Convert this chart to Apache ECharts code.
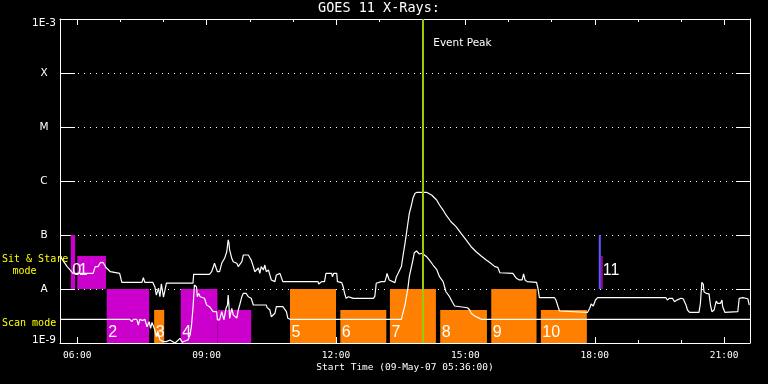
<!DOCTYPE html>
<html><head><meta charset="utf-8">
<script src="https://cdn.jsdelivr.net/npm/echarts@6/dist/echarts.min.js"></script>
<style>html,body{margin:0;padding:0;background:#000}#c{width:768px;height:384px}</style>
</head><body><div id="c"></div>
<script>
// ---------- data ----------
const startTime = '05:36';
const endTime = '21:36';
const xTickLabels = ['06:00','09:00','12:00','15:00','18:00','21:00'];
const xMinorTicks = ['06:00','07:00','08:00','09:00','10:00','11:00','12:00','13:00','14:00','15:00','16:00','17:00','18:00','19:00','20:00','21:00'];
const yTickValues = [1e-9,1e-8,1e-7,1e-6,1e-5,1e-4,1e-3];
const yTickLabels = ['1E-9','A','B','C','M','X','1E-3'];
const eventPeak = '14:00';

// GOES 11 long channel (1-8 A)
const longChannel = [
['05:36',4.1e-8],['05:40',3.4e-8],['05:46',2.6e-8],['05:50',2.25e-8],['05:54',1.95e-8],['06:22',1.95e-8],['06:25',2.6e-8],['06:29',2.6e-8],['06:32',3.07e-8],['06:36',3.1e-8],['06:40',2.5e-8],['06:46',2.09e-8],['06:59',1.95e-8],['07:02',1.33e-8],['07:30',1.33e-8],['07:32',1.62e-8],['07:34',1.33e-8],['07:45',1.33e-8],['07:48',1.09e-8],['07:50',7.7e-9],['07:53',1.04e-8],['07:55',7.2e-9],['07:57',1.24e-8],['08:00',7.1e-9],['08:02',6.9e-9],['08:04',1.28e-8],['08:41',1.28e-8],['08:42',1.87e-8],['09:04',1.87e-8],['09:07',2.09e-8],['09:11',2.99e-8],['09:15',2.09e-8],['09:18',2.09e-8],['09:21',2.99e-8],['09:25',3.7e-8],['09:28',4.9e-8],['09:30',8.1e-8],['09:31',7.2e-8],['09:32',5.3e-8],['09:35',3.7e-8],['09:37',3.2e-8],['09:42',2.99e-8],['09:44',2.6e-8],['09:49',3.2e-8],['09:51',4.26e-8],['09:53',4.6e-8],['09:58',4.26e-8],['10:02',3.44e-8],['10:05',2.6e-8],['10:07',2.09e-8],['10:12',2.45e-8],['10:14',1.95e-8],['10:16',2.6e-8],['10:19',2.25e-8],['10:21',2.78e-8],['10:23',2.09e-8],['10:26',2.25e-8],['10:28',1.82e-8],['10:30',1.47e-8],['10:35',1.37e-8],['10:37',1.82e-8],['10:42',1.95e-8],['10:44',1.82e-8],['10:46',1.37e-8],['11:35',1.37e-8],['11:36',1.24e-8],['11:40',1.37e-8],['11:44',1.37e-8],['11:46',1.95e-8],['11:54',1.95e-8],['11:55',1.69e-8],['11:57',1.95e-8],['12:01',1.95e-8],['12:02',1.37e-8],['12:08',1.31e-8],['12:10',1.1e-8],['12:12',8.3e-9],['12:14',6.7e-9],['12:17',7.2e-9],['12:20',7.0e-9],['12:24',6.7e-9],['12:52',6.7e-9],['12:54',7.3e-9],['12:56',1.28e-8],['13:03',1.37e-8],['13:08',1.37e-8],['13:10',1.69e-8],['13:11',1.95e-8],['13:14',1.47e-8],['13:22',1.31e-8],['13:24',1.69e-8],['13:26',1.9e-8],['13:31',2.6e-8],['13:33',3.96e-8],['13:36',7.0e-8],['13:38',1.07e-7],['13:40',1.65e-7],['13:42',2.52e-7],['13:45',3.59e-7],['13:47',4.78e-7],['13:50',5.92e-7],['13:53',6.18e-7],['14:06',6.18e-7],['14:13',5.51e-7],['14:20',4.45e-7],['14:24',3.59e-7],['14:29',2.9e-7],['14:33',2.35e-7],['14:40',1.76e-7],['14:47',1.43e-7],['14:54',1.07e-7],['15:01',8.1e-8],['15:08',6.07e-8],['15:15',4.9e-8],['15:22',4.08e-8],['15:29',3.44e-8],['15:34',3.1e-8],['15:41',2.6e-8],['15:45',2.52e-8],['15:48',2.0e-8],['16:06',1.95e-8],['16:11',1.58e-8],['16:15',1.47e-8],['16:19',1.47e-8],['16:21',1.9e-8],['16:23',1.47e-8],['16:26',1.37e-8],['16:39',1.33e-8],['16:41',1.03e-8],['16:43',6.9e-9],['17:04',6.9e-9],['17:06',6.26e-9],['17:09',4.7e-9],['17:11',3.91e-9],['17:13',3.7e-9],['17:50',3.7e-9],['17:53',4.39e-9],['17:55',5.27e-9],['17:58',4.84e-9],['18:01',6.26e-9],['18:04',6.9e-9],['19:39',6.9e-9],['19:41',6.26e-9],['19:44',6.73e-9],['19:48',6.73e-9],['19:51',5.82e-9],['19:53',5.5e-9],['19:55',6.3e-9],['20:00',6.73e-9],['20:03',6.6e-9],['20:07',5.05e-9],['20:09',4.08e-9],['20:12',3.7e-9],['20:25',3.7e-9],['20:27',5.43e-9],['20:29',1.33e-8],['20:31',1.22e-8],['20:32',8.9e-9],['20:35',8.3e-9],['20:39',8.1e-9],['20:41',5.05e-9],['20:43',3.8e-9],['20:46',4.08e-9],['20:49',5.97e-9],['20:51',5.43e-9],['20:55',5.43e-9],['20:57',6.26e-9],['20:58',4.7e-9],['21:01',3.7e-9],['21:19',3.8e-9],['21:21',6.73e-9],['21:26',6.9e-9],['21:33',6.6e-9],['21:35',5.05e-9]
];

// GOES 11 short channel (0.5-4 A)
const shortChannel = [
['05:36',2.75e-9],['07:13',2.75e-9],['07:16',2.48e-9],['07:18',2.75e-9],['07:23',2.75e-9],['07:25',2.15e-9],['07:27',2.75e-9],['07:31',2.6e-9],['07:34',2.75e-9],['07:37',2.0e-9],['07:40',2.48e-9],['07:42',1.87e-9],['07:44',2.4e-9],['07:48',1.74e-9],['07:50',1.31e-9],['07:52',1.67e-9],['07:55',1.14e-9],['08:00',1.06e-9],['08:04',1.06e-9],['08:09',1.14e-9],['08:16',1.0e-9],['08:23',1.22e-9],['08:26',1.04e-9],['08:30',1.09e-9],['08:34',1.14e-9],['08:37',1.41e-9],['08:39',2.15e-9],['08:41',4.39e-9],['08:43',1.19e-8],['08:45',1.28e-8],['08:46',1.09e-8],['08:47',7.2e-9],['08:49',8.3e-9],['08:51',7.2e-9],['08:53',6.73e-9],['08:57',6.73e-9],['09:00',5.05e-9],['09:04',4.7e-9],['09:06',4.7e-9],['09:09',3.8e-9],['09:14',3.8e-9],['09:15',2.67e-9],['09:18',2.67e-9],['09:21',3.8e-9],['09:24',2.67e-9],['09:27',4.39e-9],['09:29',5.05e-9],['09:30',7.74e-9],['09:31',5.05e-9],['09:32',2.87e-9],['09:35',4.39e-9],['09:37',3.3e-9],['09:39',3.55e-9],['09:42',2.9e-9],['09:44',4.08e-9],['09:46',5.05e-9],['09:49',7.2e-9],['09:51',8.3e-9],['09:55',8.3e-9],['09:58',7.2e-9],['10:02',6.73e-9],['10:05',5.05e-9],['10:07',4.7e-9],['10:16',5.05e-9],['10:23',5.05e-9],['10:24',4.58e-9],['10:28',4.08e-9],['10:30',3.07e-9],['10:32',2.87e-9],['10:35',3.55e-9],['10:37',4.7e-9],['10:46',4.7e-9],['10:51',3.8e-9],['10:53',2.87e-9],['10:56',2.75e-9],['13:31',2.75e-9],['13:33',3.55e-9],['13:36',5.05e-9],['13:38',7.2e-9],['13:40',1.03e-8],['13:42',1.69e-8],['13:45',2.59e-8],['13:47',3.44e-8],['13:49',4.7e-8],['13:52',5.06e-8],['13:54',4.7e-8],['13:56',4.45e-8],['14:00',4.6e-8],['14:01',4.26e-8],['14:06',3.96e-8],['14:10',3.44e-8],['14:15',2.78e-8],['14:20',2.32e-8],['14:24',1.69e-8],['14:29',1.37e-8],['14:31',1.1e-8],['14:33',8.9e-9],['14:38',7.2e-9],['14:42',5.7e-9],['14:45',4.84e-9],['14:47',4.5e-9],['15:03',4.5e-9],['15:06',4.08e-9],['15:08',3.55e-9],['15:13',3.16e-9],['15:17',2.98e-9],['15:22',2.75e-9],['15:24',2.98e-9],['15:29',2.75e-9],['21:36',2.75e-9]
];

// observation blocks
const barLabels = ['0','1','2','3','4','','5','6','7','8','9','10','11'];
const barStart  = ['05:51','06:00','06:41','07:47','08:24','09:15','10:56','12:06','13:15','14:25','15:36','16:45','18:09'];
const barEnd    = ['05:57','06:40','07:40','08:01','09:15','10:02','12:00','13:10','14:19','15:30','16:39','17:49','18:11'];
const barLow    = [1e-8,1e-8,1e-9,1e-9,1e-9,1e-9,1e-9,1e-9,1e-9,1e-9,1e-9,1e-9,1e-8];
const barHigh   = [1e-7,4.1e-8,1e-8,4.1e-9,1e-8,4.1e-9,1e-8,4.1e-9,1e-8,4.1e-9,1e-8,4.1e-9,4.1e-8];
const barMode   = ['stare','stare','stare','scan','stare','stare','scan','scan','scan','scan','scan','scan','stare'];
// pointing marker
const markerTime = '18:07';
const markerRange = [1e-8, 1e-7];

// ---------- helpers ----------
const h = s => { const p = s.split(':'); return +p[0] + (+p[1]) / 60; };
const modeColor = { stare: '#CC00CC', scan: '#FF8000' };
const FONT = '"DejaVu Sans", sans-serif';
const MONO = '"DejaVu Sans Mono", monospace';

const chart = echarts.init(document.getElementById('c'), null, { renderer: 'canvas' });
const xMin = h(startTime), xMax = h(endTime);
const majorVals = xTickLabels.map(h);
const minorVals = xMinorTicks.map(h);

function xAxisDef(pos, vals, len, showLine, showLabel) {
  return {
    type: 'value', min: xMin, max: xMax, position: pos,
    axisLine: { show: showLine, onZero: false, lineStyle: { color: '#fff', width: 1 } },
    axisTick: { show: true, inside: true, length: len, customValues: vals, lineStyle: { color: '#fff', width: 1 } },
    axisLabel: showLabel ? {
      show: true, customValues: majorVals, color: '#fff', fontSize: 9.5, fontFamily: MONO, margin: 8,
      formatter: v => { const k = Math.round(v); return (k < 10 ? '0' : '') + k + ':00'; }
    } : { show: false },
    splitLine: { show: false }
  };
}

const barData = barStart.map((s, i) => [h(s), h(barEnd[i]), barLow[i], barHigh[i], i]);
const yLabStyle = { color: '#fff', fontSize: 10.5, fontFamily: FONT };

const option = {
  backgroundColor: '#000',
  animation: false,
  title: {
    text: 'GOES 11 X-Rays:', left: 318, top: 1, padding: 0,
    textStyle: { color: '#fff', fontSize: 13.5, fontWeight: 'normal', fontFamily: MONO }
  },
  grid: { left: 60, right: 18, top: 19, bottom: 41, containLabel: false },
  xAxis: [
    xAxisDef('bottom', majorVals, 6, true, true),
    xAxisDef('bottom', minorVals, 3, false, false),
    xAxisDef('top', majorVals, 6, true, false),
    xAxisDef('top', minorVals, 3, false, false)
  ],
  yAxis: [
    {
      type: 'log', logBase: 10, min: 1e-9, max: 1e-3, splitNumber: 6, position: 'left',
      axisLine: { show: true, lineStyle: { color: '#fff', width: 1 } },
      axisTick: { show: true, inside: true, length: 15, lineStyle: { color: '#fff', width: 1 } },
      axisLabel: {
        color: '#fff', fontSize: 10.5, fontFamily: FONT, align: 'center', margin: 16,
        rich: {
          top: Object.assign({ padding: [8, 0, 0, 0] }, yLabStyle),
          bot: Object.assign({ padding: [0, 0, 6, 0] }, yLabStyle)
        },
        formatter: v => {
          const idx = yTickValues.findIndex(t => Math.abs(Math.log10(t) - Math.log10(v)) < 0.01);
          if (idx < 0) return '';
          if (idx === 0) return '{bot|' + yTickLabels[idx] + '}';
          if (idx === yTickValues.length - 1) return '{top|' + yTickLabels[idx] + '}';
          return yTickLabels[idx];
        }
      },
      splitLine: { show: true, lineStyle: { color: '#fff', width: 1, type: [1, 5] } }
    },
    {
      type: 'log', logBase: 10, min: 1e-9, max: 1e-3, splitNumber: 6, position: 'right',
      axisLine: { show: true, lineStyle: { color: '#fff', width: 1 } },
      axisTick: { show: true, inside: true, length: 14, lineStyle: { color: '#fff', width: 1 } },
      axisLabel: { show: false },
      splitLine: { show: false }
    }
  ],
  series: [
    {
      type: 'custom', name: 'blocks', xAxisIndex: 0, yAxisIndex: 0, z: 2,
      encode: { x: [0, 1], y: [2, 3] },
      data: barData,
      renderItem: (params, api) => {
        const i = api.value(4);
        const tl = api.coord([api.value(0), api.value(3)]);
        const br = api.coord([api.value(1), api.value(2)]);
        const children = [{
          type: 'rect',
          shape: { x: tl[0], y: tl[1], width: br[0] - tl[0], height: br[1] - tl[1] },
          style: { fill: modeColor[barMode[i]] }
        }];
        if (barLabels[i]) {
          children.push({
            type: 'text', z2: 10,
            style: {
              text: barLabels[i], x: tl[0] + 1.5, y: br[1] - (barLow[i] > 5e-9 ? 18 : 10),
              fill: '#fff', fontSize: 16, fontFamily: '"Liberation Sans", sans-serif',
              verticalAlign: 'middle', align: 'left'
            }
          });
        }
        return { type: 'group', children };
      }
    },
    {
      type: 'line', name: 'marker', z: 3, xAxisIndex: 0, yAxisIndex: 0,
      data: markerRange.map(v => [h(markerTime), v]),
      showSymbol: false, lineStyle: { color: '#5A5AFF', width: 2 }
    },
    {
      type: 'line', name: 'long', z: 4, xAxisIndex: 0, yAxisIndex: 0,
      data: longChannel.map(d => [h(d[0]), d[1]]),
      showSymbol: false, lineStyle: { color: '#fff', width: 1.2 }
    },
    {
      type: 'line', name: 'short', z: 4, xAxisIndex: 0, yAxisIndex: 0,
      data: shortChannel.map(d => [h(d[0]), d[1]]),
      showSymbol: false, lineStyle: { color: '#fff', width: 1.2 }
    },
    {
      type: 'line', name: 'peak', z: 5, xAxisIndex: 0, yAxisIndex: 0, data: [],
      markLine: {
        silent: true, symbol: ['none', 'none'], label: { show: false },
        lineStyle: { color: '#99CC00', width: 2, type: 'solid' },
        data: [{ xAxis: h(eventPeak) }]
      }
    }
  ]
};
chart.setOption(option);

const peakX = chart.convertToPixel({ xAxisIndex: 0 }, h(eventPeak));
chart.setOption({
  graphic: [
    { type: 'text', x: 2, y: 259, z: 100, style: { text: 'Sit & Stare', fill: '#FFFF00', fontSize: 10, fontFamily: MONO, align: 'left', verticalAlign: 'middle' } },
    { type: 'text', x: 24.5, y: 271, z: 100, style: { text: 'mode', fill: '#FFFF00', fontSize: 10, fontFamily: MONO, align: 'center', verticalAlign: 'middle' } },
    { type: 'text', x: 2, y: 323.5, z: 100, style: { text: 'Scan mode', fill: '#FFFF00', fontSize: 10, fontFamily: MONO, align: 'left', verticalAlign: 'middle' } },
    { type: 'text', x: 405, y: 368, z: 100, style: { text: 'Start Time (09-May-07 05:36:00)', fill: '#fff', fontSize: 9.5, fontFamily: MONO, align: 'center', verticalAlign: 'middle' } },
    { type: 'text', x: peakX + 11, y: 43, z: 100, style: { text: 'Event Peak', fill: '#fff', fontSize: 10.5, fontFamily: FONT, align: 'left', verticalAlign: 'middle' } }
  ]
});
</script>
</body></html>
